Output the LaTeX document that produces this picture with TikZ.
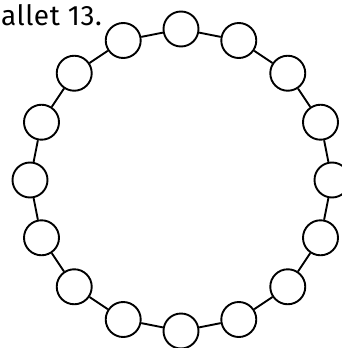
\documentclass[tikz,border=0pt]{standalone}
\usepackage{fontspec}
\setmainfont{Fira Sans}
\begin{document}
\begin{tikzpicture}[x=1pt,y=-1pt,
  bead/.style={circle,draw,line width=1.9pt,minimum size=35pt,inner sep=0pt},
  link/.style={line width=1.9pt}]
\useasboundingbox (0,0) rectangle (342,348);
\foreach \i in {0,...,15} {
  \node[bead] (n\i) at ({181+151*sin(22.5*\i)},{180-151*cos(22.5*\i)}) {};
}
\foreach \i in {0,...,15} {
  \pgfmathtruncatemacro{\j}{mod(\i+1,16)}
  \draw[link] (n\i) -- (n\j);
}
\node[anchor=base east, font=\fontsize{28}{33}\selectfont, inner sep=0pt] (t) at (102,25.5) {\addfontfeature{LetterSpace=2}allet 13.};
\end{tikzpicture}
\end{document}
